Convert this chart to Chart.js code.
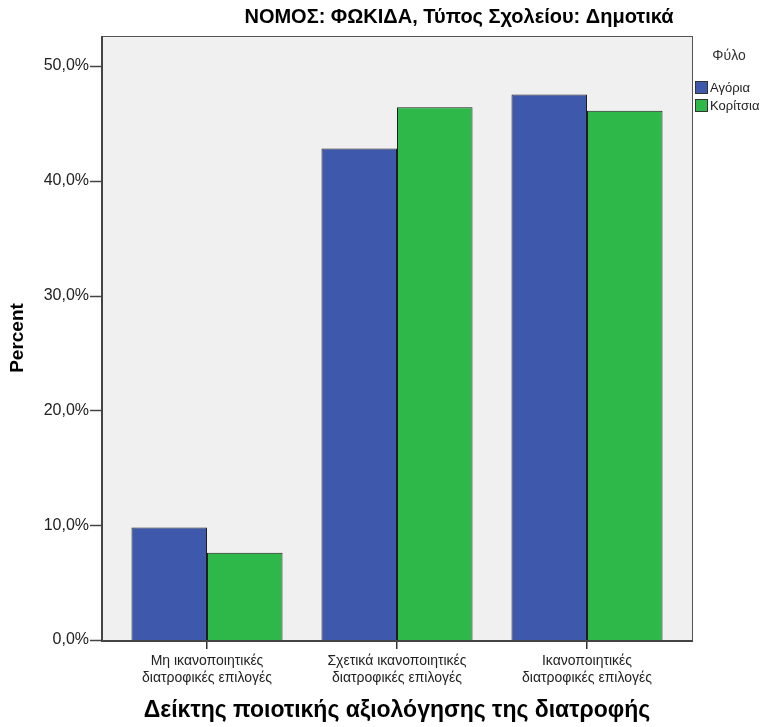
<!DOCTYPE html>
<html>
<head>
<meta charset="utf-8">
<script src="https://cdn.jsdelivr.net/npm/chart.js@4"></script>
<style>
  body { margin: 0; background: #fff; }
  #wrap { width: 775px; height: 727px; }
</style>
</head>
<body>
<div id="wrap"><canvas id="chart"></canvas></div>
<script>
const categories = [
    ["Μη ικανοποιητικές", "διατροφικές επιλογές"],
    ["Σχετικά ικανοποιητικές", "διατροφικές επιλογές"],
    ["Ικανοποιητικές", "διατροφικές επιλογές"]
];
const seriesNames = ["Αγόρια", "Κορίτσια"];
const boys = [9.8, 42.8, 47.5];
const girls = [7.6, 46.4, 46.1];
const yTicks = [0, 10, 20, 30, 40, 50];
const chartTitle = "ΝΟΜΟΣ: ΦΩΚΙΔΑ, Τύπος Σχολείου: Δημοτικά";
const legendTitle = "Φύλο";

const fontFamily = "'Liberation Sans', Arial, sans-serif";
const frameGap = 10; // plot frame sits a little outside the category range

// grey plot background, frame, axis lines and y tick marks
const plotBg = {
    id: 'plotBg',
    beforeDraw(chart) {
        const {ctx, chartArea: a} = chart;
        const left = a.left - frameGap, right = a.right + frameGap;
        ctx.save();
        ctx.fillStyle = '#f0f0f0';
        ctx.fillRect(left, a.top, right - left, a.bottom - a.top);
        ctx.strokeStyle = '#555';
        ctx.lineWidth = 1;
        ctx.strokeRect(left + 0.5, a.top + 0.5, right - left, a.bottom - a.top);
        ctx.restore();
    },
    afterDraw(chart) {
        const {ctx, chartArea: a} = chart;
        const left = a.left - frameGap, right = a.right + frameGap;
        const y = chart.scales.y;
        ctx.save();
        ctx.strokeStyle = '#444';
        ctx.lineWidth = 2;
        ctx.beginPath();
        ctx.moveTo(left, a.top);
        ctx.lineTo(left, a.bottom + 1);
        ctx.lineTo(right + 1, a.bottom + 1);
        ctx.stroke();
        ctx.lineWidth = 1.5;
        yTicks.forEach(v => {
            const py = Math.round(y.getPixelForValue(v)) + 0.5;
            ctx.beginPath();
            ctx.moveTo(left - 12, py);
            ctx.lineTo(left, py);
            ctx.stroke();
        });
        ctx.restore();
    }
};

// title and legend drawn like the SPSS output
const extras = {
    id: 'extras',
    afterDraw(chart) {
        const {ctx, chartArea: a} = chart;
        const right = a.right + frameGap;
        ctx.save();
        ctx.fillStyle = '#000';
        ctx.font = "bold 20px " + fontFamily;
        ctx.textAlign = 'center';
        ctx.textBaseline = 'middle';
        ctx.fillText(chartTitle, 459, 17);

        ctx.fillStyle = '#333';
        ctx.font = "14px " + fontFamily;
        ctx.fillText(legendTitle, 729, 56);

        ctx.textAlign = 'left';
        ctx.font = "13px " + fontFamily;
        chart.data.datasets.forEach((ds, i) => {
            const y = 81 + i * 18;
            ctx.fillStyle = ds.backgroundColor;
            ctx.fillRect(right + 3, y, 13, 13);
            ctx.strokeStyle = '#333';
            ctx.lineWidth = 1;
            ctx.strokeRect(right + 3.5, y + 0.5, 12, 12);
            ctx.fillStyle = '#222';
            ctx.fillText(ds.label, right + 18, y + 7);
        });
        ctx.restore();
    }
};

new Chart(document.getElementById('chart'), {
    type: 'bar',
    data: {
        labels: categories,
        datasets: [
            {
                label: seriesNames[0],
                data: boys,
                backgroundColor: '#3e58ac',
                borderColor: '#1e1e1e',
                borderWidth: 1
            },
            {
                label: seriesNames[1],
                data: girls,
                backgroundColor: '#2eb84a',
                borderColor: '#1e1e1e',
                borderWidth: 1
            }
        ]
    },
    options: {
        responsive: true,
        maintainAspectRatio: false,
        animation: false,
        categoryPercentage: 0.795,
        barPercentage: 1,
        layout: {
            padding: {top: 36, right: 93, left: 0, bottom: 0}
        },
        plugins: {
            legend: {display: false},
            title: {display: false},
            tooltip: {enabled: false}
        },
        scales: {
            x: {
                grid: {
                    offset: false,
                    drawOnChartArea: false,
                    tickLength: 9,
                    lineWidth: 1.5,
                    color: '#333'
                },
                border: {display: false},
                ticks: {
                    color: '#222',
                    padding: 3,
                    maxRotation: 0,
                    font: {family: fontFamily, size: 14, lineHeight: 1.25}
                },
                title: {
                    display: true,
                    text: 'Δείκτης ποιοτικής αξιολόγησης της διατροφής',
                    color: '#000',
                    font: {family: fontFamily, size: 23, weight: 'bold'},
                    padding: {top: 0, bottom: 3}
                },
                afterFit: s => { s.height = 87; }
            },
            y: {
                min: 0,
                max: 52.6,
                grid: {
                    display: false
                },
                border: {display: false},
                ticks: {
                    padding: 15,
                    color: '#222',
                    font: {family: fontFamily, size: 16},
                    callback: v => v.toFixed(1).replace('.', ',') + '%'
                },
                afterBuildTicks: s => {
                    s.ticks = yTicks.map(v => ({value: v}));
                },
                title: {
                    display: true,
                    text: 'Percent',
                    color: '#000',
                    font: {family: fontFamily, size: 19, weight: 'bold'},
                    padding: {top: 6, bottom: 0}
                },
                afterFit: s => { s.width = 112; }
            }
        }
    },
    plugins: [plotBg, extras]
});
</script>
</body>
</html>
